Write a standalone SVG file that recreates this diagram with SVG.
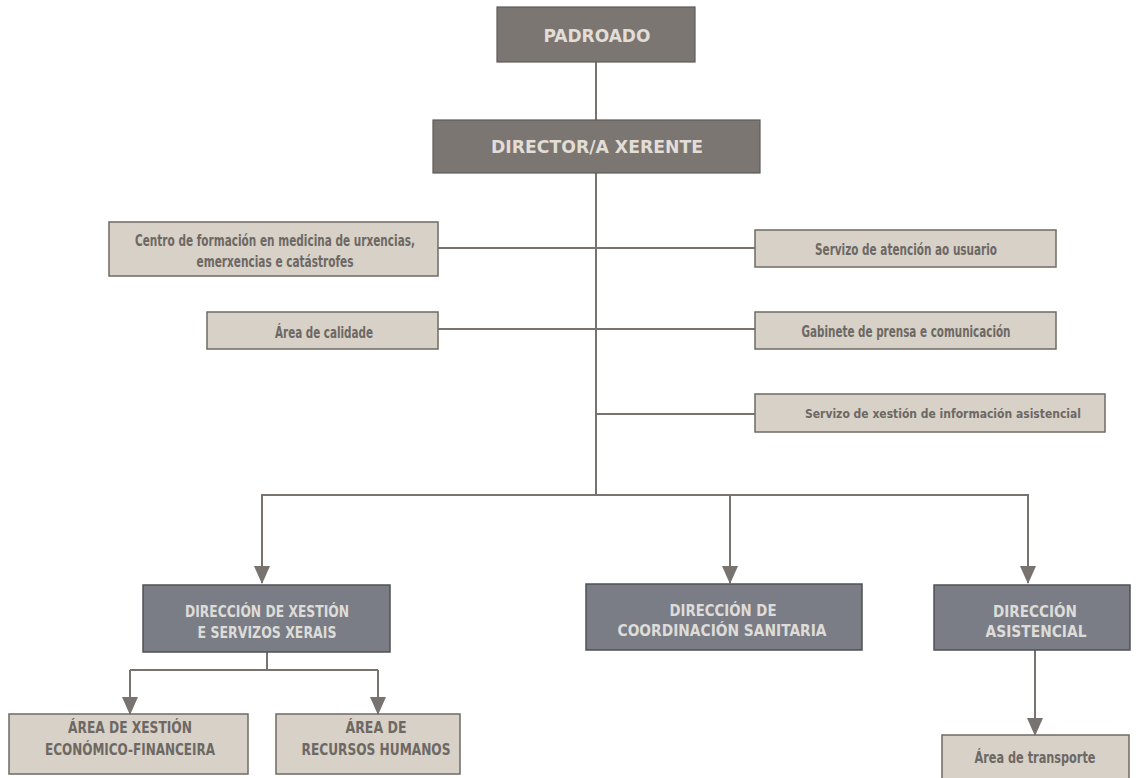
<svg xmlns="http://www.w3.org/2000/svg" width="1138" height="778" viewBox="0 0 1138 778">
<defs>
<marker id="arr" markerUnits="userSpaceOnUse" markerWidth="18" markerHeight="16" refX="17" refY="8" orient="auto" viewBox="0 0 18 16">
<path d="M0,0 L18,8 L0,16 Z" fill="#78736e"/>
</marker>
<style>
.top{fill:#7b7671;stroke:#5e5a56;stroke-width:1.2}
.dir{fill:#7a7d85;stroke:#4f5157;stroke-width:1.5}
.lt{fill:#d7d1c7;stroke:#6f6b66;stroke-width:1.5}
.t{font-family:"DejaVu Sans Condensed","DejaVu Sans",sans-serif;font-weight:bold;text-anchor:middle}
.tw{fill:#e2ddd6;font-size:17px}
.td{fill:#dedcd8;font-size:15px}
.ts{fill:#6d6864;font-size:15px}
.tc{fill:#6d6864;font-size:16px}
.ln{fill:none;stroke:#78736e;stroke-width:2}
</style>
</defs>
<rect width="1138" height="778" fill="#ffffff"/>
<g id="connectors">
<line class="ln" x1="596" y1="62" x2="596" y2="120"/>
<line class="ln" x1="596" y1="173" x2="596" y2="495"/>
<line class="ln" x1="438" y1="248" x2="755" y2="248"/>
<line class="ln" x1="438" y1="329" x2="755" y2="329"/>
<line class="ln" x1="596" y1="414" x2="755" y2="414"/>
<polyline class="ln" points="262,583 262,495 1028,495 1028,583" marker-end="url(#arr)"/>
<path class="ln" d="M262,495 L262,583" marker-end="url(#arr)"/>
<path class="ln" d="M730,495 L730,583" marker-end="url(#arr)"/>
<path class="ln" d="M267,652 L267,670"/>
<path class="ln" d="M130,670 L378,670"/>
<path class="ln" d="M130,670 L130,714" marker-end="url(#arr)"/>
<path class="ln" d="M378,670 L378,714" marker-end="url(#arr)"/>
<path class="ln" d="M1035,650 L1035,735" marker-end="url(#arr)"/>
</g>
<g id="padroado">
<rect class="top" x="497" y="7" width="198" height="55"/>
<text class="t tw" x="597" y="42" style="font-size:18px" textLength="107" lengthAdjust="spacingAndGlyphs">PADROADO</text>
</g>
<g id="director">
<rect class="top" x="433" y="120" width="327" height="53"/>
<text class="t tw" x="597" y="153" textLength="212" lengthAdjust="spacingAndGlyphs">DIRECTOR/A XERENTE</text>
</g>
<g id="centro">
<rect class="lt" x="109" y="222" width="329" height="54"/>
<text class="t ts" x="275" y="246" textLength="280" lengthAdjust="spacingAndGlyphs">Centro de formación en medicina de urxencias,</text>
<text class="t ts" x="275" y="267" textLength="157" lengthAdjust="spacingAndGlyphs">emerxencias e catástrofes</text>
</g>
<g id="calidade">
<rect class="lt" x="207" y="312" width="231" height="37"/>
<text class="t ts" x="324" y="338" textLength="98" lengthAdjust="spacingAndGlyphs">Área de calidade</text>
</g>
<g id="atencion">
<rect class="lt" x="755" y="230" width="301" height="37"/>
<text class="t ts" x="906" y="255" textLength="182" lengthAdjust="spacingAndGlyphs">Servizo de atención ao usuario</text>
</g>
<g id="gabinete">
<rect class="lt" x="755" y="312" width="301" height="37"/>
<text class="t ts" x="906" y="337" textLength="209" lengthAdjust="spacingAndGlyphs">Gabinete de prensa e comunicación</text>
</g>
<g id="informacion">
<rect class="lt" x="755" y="394" width="350" height="38"/>
<text class="t ts" x="943" y="418" style="font-size:12px">Servizo de xestión de información asistencial</text>
</g>
<g id="dir-xestion">
<rect class="dir" x="143" y="585" width="247" height="67"/>
<text class="t td" x="267" y="617" textLength="164" lengthAdjust="spacingAndGlyphs">DIRECCIÓN DE XESTIÓN</text>
<text class="t td" x="267" y="638" textLength="139" lengthAdjust="spacingAndGlyphs">E SERVIZOS XERAIS</text>
</g>
<g id="dir-coordinacion">
<rect class="dir" x="586" y="584" width="276" height="66"/>
<text class="t td" x="723" y="616" textLength="107" lengthAdjust="spacingAndGlyphs">DIRECCIÓN DE</text>
<text class="t td" x="722" y="636" textLength="209" lengthAdjust="spacingAndGlyphs">COORDINACIÓN SANITARIA</text>
</g>
<g id="dir-asistencial">
<rect class="dir" x="934" y="585" width="196" height="65"/>
<text class="t td" x="1035" y="617" textLength="84" lengthAdjust="spacingAndGlyphs">DIRECCIÓN</text>
<text class="t td" x="1036" y="637" textLength="101" lengthAdjust="spacingAndGlyphs">ASISTENCIAL</text>
</g>
<g id="area-economico">
<rect class="lt" x="9" y="714" width="239" height="60"/>
<text class="t tc" x="130" y="733" textLength="124" lengthAdjust="spacingAndGlyphs">ÁREA DE XESTIÓN</text>
<text class="t tc" x="130" y="755" textLength="170" lengthAdjust="spacingAndGlyphs">ECONÓMICO-FINANCEIRA</text>
</g>
<g id="area-rrhh">
<rect class="lt" x="276" y="714" width="184" height="60"/>
<text class="t tc" x="376" y="733" textLength="61" lengthAdjust="spacingAndGlyphs">ÁREA DE</text>
<text class="t tc" x="376" y="755" textLength="149" lengthAdjust="spacingAndGlyphs">RECURSOS HUMANOS</text>
</g>
<g id="area-transporte">
<rect class="lt" x="942" y="735" width="187" height="45"/>
<text class="t ts" x="1035" y="763" textLength="121" lengthAdjust="spacingAndGlyphs">Área de transporte</text>
</g>
</svg>
